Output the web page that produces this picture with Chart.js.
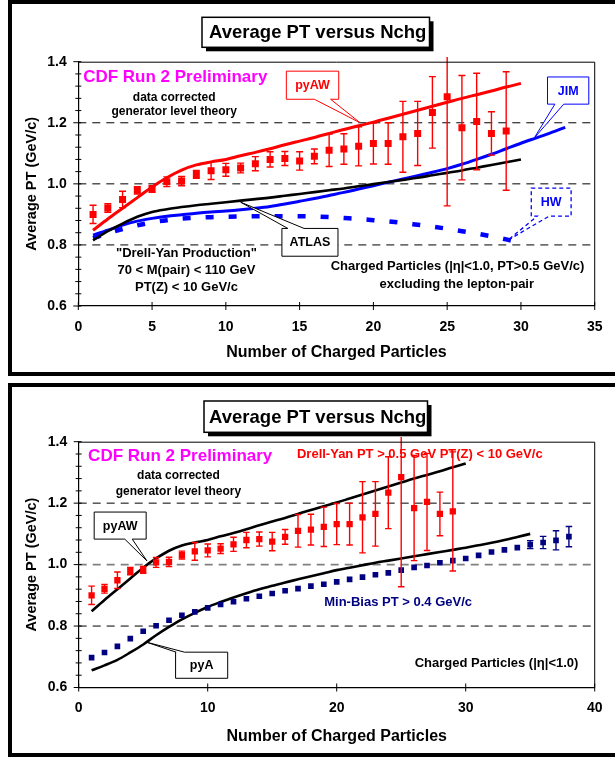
<!DOCTYPE html>
<html><head><meta charset="utf-8">
<script src="https://cdn.jsdelivr.net/npm/chart.js@4.4.0/dist/chart.umd.min.js"></script>
<style>
html,body{margin:0;padding:0;background:#fff;width:615px;height:757px;overflow:hidden;position:relative}
canvas{position:absolute;left:0}
.frame{position:absolute;left:8px;width:700px;border:4px solid #000;box-sizing:border-box;pointer-events:none}
</style></head><body>
<canvas id="c1" width="615" height="378" style="top:0"></canvas>
<canvas id="c2" width="615" height="379" style="top:378px"></canvas>
<div class="frame" style="top:0;height:376px"></div>
<div class="frame" style="top:383px;height:374px"></div>
<script>
// ===== DATA =====
const nchgDY  = [1,2,3,4,5,6,7,8,9,10,11,12,13,14,15,16,17,18,19,20,21,22,23,24,25,26,27,28,29];
const dyAvgPT = [0.900,0.921,0.949,0.979,0.983,1.007,1.009,1.031,1.043,1.046,1.052,1.066,1.080,1.083,1.075,1.090,1.110,1.114,1.123,1.132,1.132,1.154,1.165,1.234,1.285,1.184,1.204,1.165,1.173];
const dyErr   = [0.030,0.014,0.027,0.012,0.011,0.016,0.015,0.013,0.029,0.021,0.016,0.023,0.025,0.023,0.030,0.024,0.053,0.050,0.064,0.067,0.068,0.116,0.105,0.117,0.357,0.171,0.158,0.071,0.194];

const nchgMB  = [1,2,3,4,5,6,7,8,9,10,11,12,13,14,15,16,17,18,19,20,21,22,23,24,25,26,27,28,29,30,31,32,33,34,35,36,37,38];
const mbAvgPT = [0.697,0.714,0.734,0.759,0.783,0.801,0.819,0.835,0.846,0.859,0.870,0.879,0.889,0.897,0.906,0.915,0.922,0.930,0.936,0.944,0.952,0.959,0.967,0.973,0.982,0.991,0.997,1.006,1.013,1.020,1.030,1.041,1.048,1.055,1.065,1.072,1.079,1.091];
const mbErr   = [0.004,0.004,0.004,0.004,0.004,0.004,0.004,0.004,0.004,0.004,0.004,0.004,0.004,0.004,0.004,0.004,0.004,0.004,0.004,0.005,0.005,0.005,0.005,0.005,0.005,0.006,0.006,0.006,0.006,0.007,0.007,0.008,0.009,0.011,0.013,0.020,0.031,0.033];

const nchgPyAW = [1,2,3,4,5,6,7,8,9,10,11,12,13,14,15,16,17,18,19,20,21,22,23,24,25,26,27,28,29,30];
const pyAW     = [0.848,0.885,0.920,0.955,0.990,1.020,1.045,1.062,1.072,1.080,1.092,1.103,1.115,1.128,1.140,1.152,1.165,1.178,1.190,1.202,1.215,1.228,1.241,1.254,1.267,1.280,1.292,1.304,1.317,1.329];
const nchgATLAS = [1,2,3,4,5,6,7,8,9,10,11,12,13,14,15,16,17,18,19,20,21,22,23,24,25,26,27,28,29,30];
const atlas     = [0.815,0.845,0.870,0.892,0.908,0.917,0.924,0.930,0.935,0.940,0.945,0.950,0.955,0.961,0.967,0.973,0.979,0.985,0.992,0.999,1.006,1.013,1.020,1.028,1.036,1.044,1.053,1.062,1.071,1.080];
const nchgJIM = [1,2,3,4,5,6,7,8,9,10,11,12,13,14,15,16,17,18,19,20,21,22,23,24,25,26,27,28,29,30,31,32,33];
const jim     = [0.832,0.848,0.865,0.878,0.887,0.894,0.899,0.904,0.908,0.911,0.915,0.920,0.926,0.934,0.943,0.952,0.962,0.972,0.983,0.994,1.005,1.016,1.027,1.038,1.050,1.064,1.080,1.097,1.115,1.133,1.150,1.167,1.185];
const nchgHW = [1,2,3,4,5,6,7,8,9,10,11,12,13,14,15,16,17,18,19,20,21,22,23,24,25,26,27,28,29,30];
const hw     = [0.822,0.838,0.852,0.864,0.874,0.881,0.886,0.889,0.891,0.892,0.893,0.894,0.894,0.894,0.894,0.893,0.891,0.888,0.885,0.881,0.877,0.872,0.866,0.860,0.853,0.845,0.837,0.828,0.818,0.806];
const nchgPyA = [1,2,3,4,5,6,7,8,9,10,11,12,13,14,15,16,17,18,19,20,21,22,23,24,25,26,27,28,29,30,31,32,33,34,35];
const pyA     = [0.656,0.672,0.690,0.714,0.740,0.770,0.797,0.822,0.843,0.862,0.878,0.893,0.907,0.920,0.931,0.942,0.952,0.962,0.972,0.982,0.990,0.998,1.006,1.013,1.020,1.027,1.034,1.041,1.048,1.055,1.063,1.071,1.080,1.090,1.100];

const xTicksTop    = [0,5,10,15,20,25,30,35];
const xTicksBottom = [0,10,20,30,40];
const yTicks       = [0.6,0.8,1.0,1.2,1.4];

// ===== STYLE / HELPERS =====
const FONT = '"Liberation Sans", Arial, Helvetica, sans-serif';
Chart.defaults.font.family = FONT;
const RED = '#FF0000', BLUE = '#0000FF', NAVY = '#000080', MAG = '#FF00FF';
const pts = (xs, ys) => xs.map((x, i) => ({x, y: ys[i]}));

function drawText(ctx, text, x, y, size, color, align) {
  ctx.save();
  ctx.font = 'bold ' + size + 'px ' + FONT;
  ctx.fillStyle = color; ctx.textAlign = align || 'center'; ctx.textBaseline = 'middle';
  ctx.fillText(text, x, y);
  ctx.restore();
}
function callout(ctx, c, X, Y) {
  const l = X(c.x0), r = X(c.x1), t = Y(c.y1), b = Y(c.y0);
  const tip = [X(c.tx), Y(c.ty)];
  let p;
  if (c.side === 'bottom') { const a = X(c.b0), d = X(c.b1); p = [[l,t],[r,t],[r,b],[d,b],tip,[a,b],[l,b]]; }
  else if (c.side === 'top') { const a = X(c.b0), d = X(c.b1); p = [[l,t],[a,t],tip,[d,t],[r,t],[r,b],[l,b]]; }
  else { const a = Y(c.b0), d = Y(c.b1); p = [[l,b],[l,d],tip,[l,a],[l,t],[r,t],[r,b]]; }
  ctx.save();
  ctx.beginPath();
  p.forEach((q, i) => i ? ctx.lineTo(q[0], q[1]) : ctx.moveTo(q[0], q[1]));
  ctx.closePath();
  ctx.fillStyle = '#fff'; ctx.fill();
  ctx.strokeStyle = c.color; ctx.lineWidth = c.lw || 1; ctx.setLineDash(c.dash || []); ctx.stroke();
  ctx.restore();
  drawText(ctx, c.text, (l + r) / 2, (t + b) / 2 + 0.5, c.size || 12.5, c.color);
}
function drawErrs(ctx, e, X, Y) {
  ctx.save(); ctx.strokeStyle = e.color; ctx.lineWidth = e.lw;
  e.xs.forEach((x, i) => {
    const y = e.ys[i], er = e.es[i];
    const px = X(x), hiV = Math.min(y + er, 1.415);
    const ph = Y(hiV), pl = Y(y - er), pc = Y(y);
    if (pl - pc < e.minLen) return;
    ctx.beginPath();
    ctx.moveTo(px, ph); ctx.lineTo(px, pl);
    if (y + er <= 1.4) { ctx.moveTo(px - e.cap / 2, ph); ctx.lineTo(px + e.cap / 2, ph); }
    ctx.moveTo(px - e.cap / 2, pl); ctx.lineTo(px + e.cap / 2, pl);
    ctx.stroke();
  });
  ctx.restore();
}

const DECOR = {};
const decorPlugin = {
  id: 'decor',
  beforeDatasetsDraw(chart) {
    const d = DECOR[chart.canvas.id]; if (!d) return;
    const {ctx, chartArea: a} = chart; const Y = v => chart.scales.y.getPixelForValue(v);
    d.grid.forEach(g => {
      ctx.save(); ctx.strokeStyle = g.color; ctx.lineWidth = g.width; ctx.setLineDash([8, 6]);
      ctx.beginPath(); ctx.moveTo(a.left, Y(g.v)); ctx.lineTo(a.right, Y(g.v)); ctx.stroke(); ctx.restore();
    });
  },
  beforeDatasetDraw(chart, args) {
    const d = DECOR[chart.canvas.id]; if (!d) return;
    const X = v => chart.scales.x.getPixelForValue(v), Y = v => chart.scales.y.getPixelForValue(v);
    d.errs.forEach(e => { if (e.ds === args.index) drawErrs(chart.ctx, e, X, Y); });
  },
  afterDraw(chart) {
    const d = DECOR[chart.canvas.id]; if (!d) return;
    const {ctx, chartArea: a} = chart;
    const X = v => chart.scales.x.getPixelForValue(v), Y = v => chart.scales.y.getPixelForValue(v);
    ctx.save();
    ctx.strokeStyle = '#000'; ctx.lineWidth = 1;
    ctx.beginPath(); ctx.moveTo(a.left, a.top + 0.5); ctx.lineTo(a.right, a.top + 0.5);
    ctx.lineTo(a.right, a.bottom); ctx.stroke();
    ctx.beginPath();
    for (let k = 0; k <= 20; k++) {
      const py = Y(0.6 + k * 0.04);
      if (k % 5 === 0) { ctx.moveTo(a.left - 5, py); ctx.lineTo(a.left + 3, py); }
      else { ctx.moveTo(a.left - 3, py); ctx.lineTo(a.left + 3, py); }
    }
    d.xticks.forEach(v => { const px = X(v); ctx.moveTo(px, a.bottom - 4); ctx.lineTo(px, a.bottom + 4); });
    ctx.stroke();
    ctx.restore();
    d.texts.forEach(t => drawText(ctx, t.t, X(t.x), Y(t.y), t.size, t.color || '#000', t.align));
    d.callouts.forEach(c => callout(ctx, c, X, Y));
    const tb = d.title;
    ctx.save();
    ctx.fillStyle = '#000'; ctx.fillRect(tb.l + 4, tb.t + 4, tb.r - tb.l, tb.b - tb.t);
    ctx.fillStyle = '#fff'; ctx.fillRect(tb.l, tb.t, tb.r - tb.l, tb.b - tb.t);
    ctx.strokeStyle = '#000'; ctx.lineWidth = 1.5; ctx.strokeRect(tb.l, tb.t, tb.r - tb.l, tb.b - tb.t);
    ctx.restore();
    drawText(ctx, tb.text, (tb.l + tb.r) / 2 + 2, tb.ty, 18.5, '#000');
  }
};

function lineDS(xs, ys, color, width, dash) {
  return {data: pts(xs, ys), borderColor: color, backgroundColor: color, borderWidth: width,
    borderDash: dash || [], pointRadius: 0, showLine: true, fill: false, cubicInterpolationMode: 'monotone', borderCapStyle: 'butt'};
}
function dataDS(xs, ys, color, r) {
  return {data: pts(xs, ys), showLine: false, pointStyle: 'rect', pointRadius: r, pointHoverRadius: r,
    pointBackgroundColor: color, pointBorderColor: color, pointBorderWidth: 0, borderColor: color, backgroundColor: color};
}
function scales(xmax, xticks, yWidth, xTitlePad) {
  const tickFont = {size: 14, weight: 'bold'};
  return {
    x: {type: 'linear', min: 0, max: xmax,
      afterBuildTicks: s => { s.ticks = xticks.map(v => ({value: v})); },
      ticks: {padding: 12.5, color: '#000', font: tickFont, maxRotation: 0, autoSkip: false},
      grid: {display: false, drawTicks: false},
      border: {display: true, color: '#000', width: 1.2},
      title: {display: true, text: 'Number of Charged Particles', color: '#000', font: {size: 16, weight: 'bold'}, padding: {top: 0, bottom: xTitlePad}},
      afterFit: s => { s.height = 60; }},
    y: {type: 'linear', min: 0.6, max: 1.4,
      afterBuildTicks: s => { s.ticks = yTicks.map(v => ({value: v})); },
      ticks: {padding: 11.5, color: '#000', font: tickFont, callback: v => Number(v).toFixed(1)},
      grid: {display: false, drawTicks: false},
      border: {display: true, color: '#000', width: 1.2},
      title: {display: true, text: 'Average PT (GeV/c)', color: '#000', font: {size: 14.5, weight: 'bold'}, padding: {top: 23.3, bottom: 0}},
      afterFit: s => { s.width = yWidth; }}
  };
}
const baseOpts = {responsive: false, animation: false, events: [],
  plugins: {legend: {display: false}, tooltip: {enabled: false}}};

// ===== TOP CHART =====
DECOR.c1 = {
  grid: [{v: 0.8, color: '#000', width: 1}, {v: 1.0, color: '#000', width: 1}, {v: 1.2, color: '#000', width: 1}],
  xticks: xTicksTop,
  errs: [{ds: 0, xs: nchgDY, ys: dyAvgPT, es: dyErr, color: RED, lw: 1.4, cap: 7, minLen: 2}],
  texts: [
    {t: 'CDF Run 2 Preliminary', x: 0.33, y: 1.349, size: 17, color: MAG, align: 'left'},
    {t: 'data corrected', x: 6.5, y: 1.283, size: 12},
    {t: 'generator level theory', x: 6.5, y: 1.236, size: 12},
    {t: '"Drell-Yan Production"', x: 7.33, y: 0.772, size: 13},
    {t: '70 < M(pair) < 110 GeV', x: 7.33, y: 0.717, size: 13},
    {t: 'PT(Z) < 10 GeV/c', x: 7.33, y: 0.660, size: 13},
    {t: 'Charged Particles (|\u03B7|<1.0, PT>0.5 GeV/c)', x: 25.7, y: 0.728, size: 13},
    {t: 'excluding the lepton-pair', x: 25.65, y: 0.671, size: 13}
  ],
  callouts: [
    {text: 'pyAW', color: RED, x0: 14.1, x1: 17.65, y0: 1.277, y1: 1.369, side: 'bottom', b0: 16.0, b1: 17.1, tx: 19.1, ty: 1.2},
    {text: 'JIM', color: BLUE, x0: 31.8, x1: 34.6, y0: 1.261, y1: 1.35, side: 'bottom', b0: 32.3, b1: 32.9, tx: 30.9, ty: 1.15},
    {text: 'HW', color: BLUE, dash: [4, 3], lw: 1.3, x0: 30.7, x1: 33.4, y0: 0.894, y1: 0.986, side: 'bottom', b0: 31.1, b1: 31.9, tx: 29.1, ty: 0.815},
    {text: 'ATLAS', color: '#000', x0: 13.8, x1: 17.6, y0: 0.763, y1: 0.854, side: 'top', b0: 14.2, b1: 15.3, tx: 11.0, ty: 0.94}
  ],
  title: {text: 'Average PT versus Nchg', l: 202, r: 429.5, t: 17.3, b: 47.3, ty: 33}
};
new Chart(document.getElementById('c1'), {
  type: 'line',
  data: {datasets: [
    dataDS(nchgDY, dyAvgPT, RED, 4.95),
    lineDS(nchgPyAW, pyAW, RED, 3),
    lineDS(nchgATLAS, atlas, '#000', 2.6),
    lineDS(nchgJIM, jim, BLUE, 3),
    lineDS(nchgHW, hw, BLUE, 4.5, [8, 15])
  ]},
  options: Object.assign({}, baseOpts, {
    layout: {padding: {left: 0, right: 11.7, top: 61.7, bottom: 12}},
    scales: scales(35, xTicksTop, 78.3, 3.4)
  }),
  plugins: [decorPlugin]
});

// ===== BOTTOM CHART =====
DECOR.c2 = {
  grid: [{v: 0.8, color: '#000', width: 1}, {v: 1.0, color: '#808080', width: 1.6}, {v: 1.2, color: '#000', width: 1}],
  xticks: xTicksBottom,
  errs: [
    {ds: 0, xs: nchgDY, ys: dyAvgPT, es: dyErr, color: RED, lw: 1.4, cap: 6.5, minLen: 2},
    {ds: 1, xs: nchgMB, ys: mbAvgPT, es: mbErr, color: NAVY, lw: 1.4, cap: 6.5, minLen: 3.5}
  ],
  texts: [
    {t: 'CDF Run 2 Preliminary', x: 0.73, y: 1.353, size: 17, color: MAG, align: 'left'},
    {t: 'data corrected', x: 7.73, y: 1.288, size: 12},
    {t: 'generator level theory', x: 7.73, y: 1.237, size: 12},
    {t: 'Drell-Yan PT > 0.5 GeV PT(Z) < 10 GeV/c', x: 26.44, y: 1.36, size: 13, color: RED},
    {t: 'Min-Bias PT > 0.4 GeV/c', x: 24.76, y: 0.878, size: 13, color: NAVY},
    {t: 'Charged Particles (|\u03B7|<1.0)', x: 32.39, y: 0.679, size: 13}
  ],
  callouts: [
    {text: 'pyAW', color: '#000', x0: 1.2, x1: 5.23, y0: 1.083, y1: 1.171, side: 'bottom', b0: 3.57, b1: 4.15, tx: 5.29, ty: 1.012},
    {text: 'pyA', color: '#000', x0: 7.51, x1: 11.55, y0: 0.630, y1: 0.715, side: 'top', b0: 7.55, b1: 8.2, tx: 5.22, ty: 0.748}
  ],
  title: {text: 'Average PT versus Nchg', l: 204, r: 427.5, t: 23, b: 54.3, ty: 39.5}
};
new Chart(document.getElementById('c2'), {
  type: 'line',
  data: {datasets: [
    dataDS(nchgDY, dyAvgPT, RED, 4.45),
    dataDS(nchgMB, mbAvgPT, NAVY, 4.0),
    lineDS(nchgPyAW, pyAW, '#000', 2.6),
    lineDS(nchgPyA, pyA, '#000', 2.6)
  ]},
  options: Object.assign({}, baseOpts, {
    layout: {padding: {left: 0, right: 12.3, top: 63.7, bottom: 9.5}},
    scales: scales(40, xTicksBottom, 78.7, 1.2)
  }),
  plugins: [decorPlugin]
});
</script>
</body></html>
